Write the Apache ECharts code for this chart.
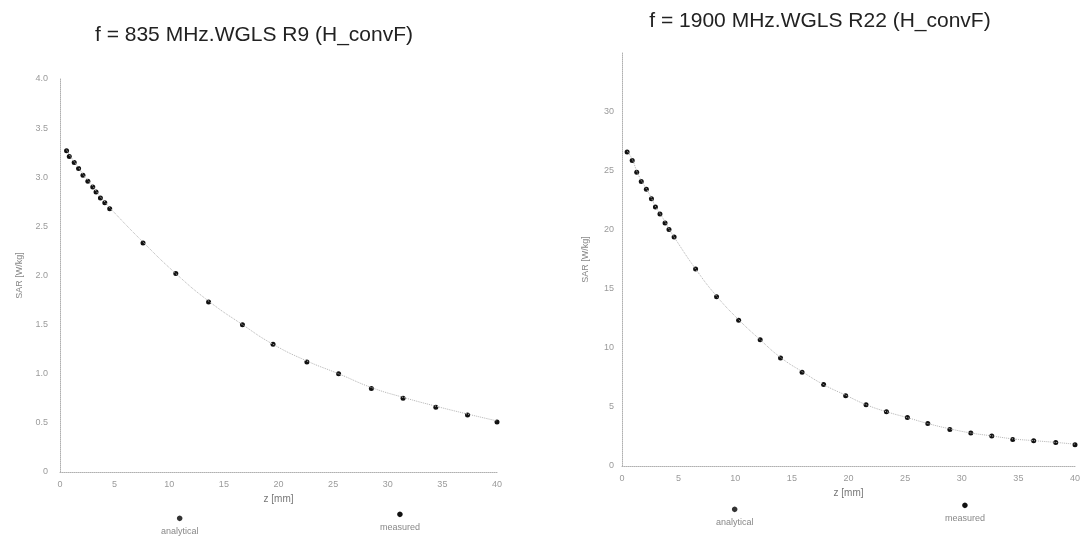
<!DOCTYPE html>
<html>
<head>
<meta charset="utf-8">
<script src="https://cdn.jsdelivr.net/npm/echarts@6/dist/echarts.min.js"></script>
<style>
html,body{margin:0;padding:0;background:#fff;}
#chart{width:1092px;height:541px;}
</style>
</head>
<body>
<div id="chart"></div>
<script>
// ---- data ----
const titles = ['f = 835 MHz.WGLS R9 (H_convF)', 'f = 1900 MHz.WGLS R22 (H_convF)'];
const seriesNames = ['analytical', 'measured'];
const xName = 'z [mm]';
const yName = 'SAR [W/kg]';

// 835 MHz: z [mm], SAR [W/kg]
const z835 = [0.6, 0.85, 1.3, 1.7, 2.1, 2.55, 3.0, 3.3, 3.7, 4.1, 4.55, 7.6, 10.6, 13.6, 16.7, 19.5, 22.6, 25.5, 28.5, 31.4, 34.4, 37.3, 40.0];
const sar835 = [3.27, 3.21, 3.15, 3.09, 3.02, 2.96, 2.90, 2.85, 2.79, 2.74, 2.68, 2.33, 2.02, 1.73, 1.50, 1.30, 1.12, 1.00, 0.85, 0.75, 0.66, 0.58, 0.51];
const ana835 = [3.28, 3.23, 3.16, 3.10, 3.03, 2.97, 2.91, 2.86, 2.80, 2.75, 2.69, 2.34, 2.02, 1.74, 1.50, 1.30, 1.13, 1.00, 0.86, 0.76, 0.67, 0.59, 0.52];

// 1900 MHz: z [mm], SAR [W/kg]
const z1900 = [0.45, 0.9, 1.3, 1.7, 2.15, 2.6, 2.95, 3.35, 3.8, 4.15, 4.6, 6.5, 8.35, 10.3, 12.2, 14.0, 15.9, 17.8, 19.75, 21.55, 23.35, 25.2, 27.0, 28.95, 30.8, 32.65, 34.5, 36.35, 38.3, 40.0];
const sar1900 = [26.6, 25.9, 24.9, 24.1, 23.45, 22.65, 21.95, 21.35, 20.6, 20.05, 19.4, 16.7, 14.35, 12.35, 10.7, 9.15, 7.95, 6.9, 5.95, 5.2, 4.6, 4.1, 3.6, 3.1, 2.8, 2.55, 2.25, 2.15, 2.0, 1.8];
const ana1900 = [26.7, 26.0, 25.0, 24.2, 23.5, 22.7, 22.0, 21.4, 20.7, 20.1, 19.4, 16.7, 14.4, 12.4, 10.7, 9.2, 8.0, 6.9, 6.0, 5.2, 4.6, 4.1, 3.6, 3.15, 2.8, 2.55, 2.3, 2.15, 2.0, 1.85];

// tick labels
const xTicks = ['0', '5', '10', '15', '20', '25', '30', '35', '40'];
const yTicks835 = ['0', '0.5', '1.0', '1.5', '2.0', '2.5', '3.0', '3.5', '4.0'];
const yTicks1900 = ['0', '5', '10', '15', '20', '25', '30', ''];

// ---- chart ----
const pair = (xs, ys) => xs.map((x, i) => [x, ys[i]]);
const tickColor = '#9a9a9a';
const axisLineStyle = {color: '#b0b0b0', type: 'dotted', width: 1};

function xAxis(gridIndex, nameGap) {
  return {
    gridIndex: gridIndex, type: 'value', min: 0, max: 40, interval: 5,
    name: xName, nameLocation: 'middle', nameGap: nameGap,
    nameTextStyle: {color: '#777', fontSize: 10, fontFamily: 'Liberation Sans'},
    axisLine: {show: true, lineStyle: axisLineStyle},
    axisTick: {show: false},
    splitLine: {show: false},
    axisLabel: {color: tickColor, fontSize: 9, fontFamily: 'Liberation Sans', margin: 8,
      formatter: v => xTicks[Math.round(v / 5)]}
  };
}

// legend: symbol drawn above the name, as in the reference
function legendItem(name, left, top, symColor) {
  return {data: [name], left: left, top: top, icon: 'none', itemWidth: 0, itemHeight: 0,
    formatter: n => '{i|●}\n{n|' + n + '}',
    textStyle: {fontFamily: 'Liberation Sans',
      rich: {
        i: {align: 'center', color: symColor, fontSize: 13, lineHeight: 15},
        n: {align: 'center', color: '#888', fontSize: 9, lineHeight: 12}
      }}};
}

const option = {
  backgroundColor: '#ffffff',
  animation: false,
  title: [
    {text: titles[0], left: 249, top: 20, textAlign: 'center',
     textStyle: {fontFamily: 'Liberation Sans', fontWeight: 'normal', fontSize: 21, color: '#222'}},
    {text: titles[1], left: 815, top: 6, textAlign: 'center',
     textStyle: {fontFamily: 'Liberation Sans', fontWeight: 'normal', fontSize: 21, color: '#222'}}
  ],
  legend: [
    legendItem(seriesNames[0], 151, 507, '#333'),
    legendItem(seriesNames[1], 370, 503, '#111'),
    legendItem(seriesNames[0], 706, 498, '#333'),
    legendItem(seriesNames[1], 935, 494, '#111')
  ],
  grid: [
    {left: 60, top: 79, width: 437, height: 393},
    {left: 622, top: 53, width: 453, height: 413}
  ],
  xAxis: [xAxis(0, 22), xAxis(1, 18)],
  yAxis: [
    {gridIndex: 0, type: 'value', min: 0, max: 4, interval: 0.5,
     name: yName, nameLocation: 'middle', nameGap: 36,
     nameTextStyle: {color: '#888', fontSize: 9, fontFamily: 'Liberation Sans'},
     axisLine: {show: true, lineStyle: axisLineStyle},
     axisTick: {show: false}, splitLine: {show: false},
     axisLabel: {color: tickColor, fontSize: 9, fontFamily: 'Liberation Sans', margin: 12,
       formatter: v => yTicks835[Math.round(v / 0.5)]}},
    {gridIndex: 1, type: 'value', min: 0, max: 35, interval: 5,
     name: yName, nameLocation: 'middle', nameGap: 32,
     nameTextStyle: {color: '#888', fontSize: 9, fontFamily: 'Liberation Sans'},
     axisLine: {show: true, lineStyle: axisLineStyle},
     axisTick: {show: false}, splitLine: {show: false},
     axisLabel: {color: tickColor, fontSize: 9, fontFamily: 'Liberation Sans', margin: 8,
       formatter: v => yTicks1900[Math.round(v / 5)]}}
  ],
  series: [
    {name: seriesNames[0], type: 'line', xAxisIndex: 0, yAxisIndex: 0, data: pair(z835, ana835),
     smooth: true, showSymbol: false, symbol: 'rect', symbolSize: 4,
     itemStyle: {color: '#555'}, lineStyle: {color: '#b5b5b5', width: 1, type: 'dotted'}},
    {name: seriesNames[1], type: 'scatter', xAxisIndex: 0, yAxisIndex: 0, data: pair(z835, sar835),
     symbol: 'circle', symbolSize: 5, itemStyle: {color: '#111', opacity: 1}},
    {name: seriesNames[0], type: 'line', xAxisIndex: 1, yAxisIndex: 1, data: pair(z1900, ana1900),
     smooth: true, showSymbol: false, symbol: 'rect', symbolSize: 4,
     itemStyle: {color: '#555'}, lineStyle: {color: '#b5b5b5', width: 1, type: 'dotted'}},
    {name: seriesNames[1], type: 'scatter', xAxisIndex: 1, yAxisIndex: 1, data: pair(z1900, sar1900),
     symbol: 'circle', symbolSize: 5, itemStyle: {color: '#111', opacity: 1}}
  ]
};

const chart = echarts.init(document.getElementById('chart'), null, {renderer: 'canvas'});
chart.setOption(option);
</script>
</body>
</html>
